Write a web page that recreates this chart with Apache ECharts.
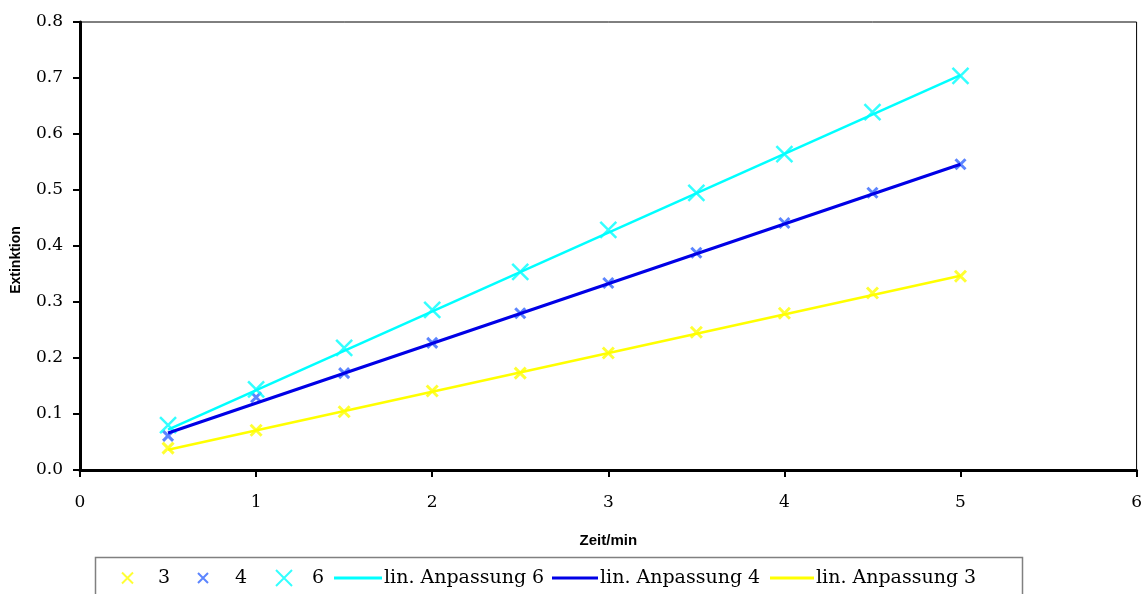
<!DOCTYPE html>
<html>
<head>
<meta charset="utf-8">
<script src="https://cdn.jsdelivr.net/npm/echarts@6/dist/echarts.min.js"></script>
<style>
html, body { margin: 0; padding: 0; background: #fff; }
#chart { width: 1145px; height: 594px; }
</style>
</head>
<body>
<div id="chart"></div>
<script>
// Zeit in min
let zeit = [0.5, 1, 1.5, 2, 2.5, 3, 3.5, 4, 4.5, 5]
// Extinktion je Messreihe
let ext3 = [0.039, 0.071, 0.104, 0.141, 0.173, 0.209, 0.246, 0.280, 0.316, 0.346]
let ext4 = [0.061, 0.130, 0.173, 0.227, 0.280, 0.334, 0.388, 0.441, 0.495, 0.546]
let ext6 = [0.080, 0.144, 0.218, 0.286, 0.354, 0.429, 0.495, 0.564, 0.639, 0.704]
// lin. Anpassung: Anfangs- und Endpunkt
let fitX = [0.5, 5]
let fit3 = [0.036, 0.347]
let fit4 = [0.066, 0.546]
let fit6 = [0.072, 0.705]

let yTicks = [0, 0.1, 0.2, 0.3, 0.4, 0.5, 0.6, 0.7, 0.8]
let xTicks = [0, 1, 2, 3, 4, 5, 6]

let kreuz = 'path://M0,0L10,10M10,0L0,10'
let serif = '"DejaVu Serif", "Liberation Serif", serif'
let sans = '"Liberation Sans", Arial, sans-serif'

let pairs = (xs, ys) => xs.map((x, i) => [x, ys[i]])

// ein Legenden-Eintrag pro Komponente, damit die Abstände passen
let legendItem = (item, left, width, height, textPad) => ({
	left: left,
	top: 578 - 11,
	padding: 0,
	itemWidth: width,
	itemHeight: height,
	itemGap: 0,
	selectedMode: false,
	data: [item],
	textStyle: { fontFamily: serif, fontSize: 19, color: '#000', padding: [0, 0, 0, textPad], lineHeight: 22 }
})

let lineIcon = (name, color) => ({ name: name, icon: 'rect', itemStyle: { color: color, borderWidth: 0 } })

let punkte = (name, data, color, size, width) => ({
	name: name,
	type: 'scatter',
	data: data,
	symbol: kreuz,
	symbolSize: size,
	itemStyle: { color: 'rgba(0,0,0,0)', borderColor: color, borderWidth: width },
	z: 2
})

let linie = (name, data, color, width) => ({
	name: name,
	type: 'line',
	data: data,
	symbol: 'none',
	showSymbol: false,
	lineStyle: { color: color, width: width },
	itemStyle: { color: color },
	z: 3
})

let chart = echarts.init(document.getElementById('chart'))

let opt = {
	backgroundColor: '#fff',
	animation: false,
	grid: {
		left: 80, right: 6, top: 22, bottom: 124,
		show: true, borderColor: '#000', borderWidth: 1
	},
	xAxis: {
		type: 'value',
		min: xTicks[0], max: xTicks[xTicks.length - 1], interval: 1,
		name: 'Zeit/min',
		nameLocation: 'middle',
		nameGap: 63,
		nameTextStyle: { fontFamily: sans, fontWeight: 'bold', fontSize: 15, color: '#000' },
		axisLine: { onZero: false, lineStyle: { color: '#000', width: 3 } },
		axisTick: { inside: false, length: 7, lineStyle: { color: '#000', width: 2 } },
		axisLabel: { margin: 24, fontFamily: serif, fontSize: 17, color: '#000' },
		splitLine: { show: false }
	},
	yAxis: {
		type: 'value',
		min: yTicks[0], max: yTicks[yTicks.length - 1], interval: 0.1,
		name: 'Extinktion',
		nameLocation: 'middle',
		nameGap: 57,
		nameTextStyle: { fontFamily: sans, fontWeight: 'bold', fontSize: 14, color: '#000', padding: [0, 28, 0, 0] },
		axisLine: { show: true, onZero: false, lineStyle: { color: '#000', width: 3 } },
		axisTick: { show: true, inside: false, length: 7, lineStyle: { color: '#000', width: 2 } },
		axisLabel: { margin: 17, fontFamily: serif, fontSize: 17, color: '#000', formatter: v => v.toFixed(1) },
		splitLine: { show: false }
	},
	legend: [
		legendItem('3', 121, 11, 11, 20),
		legendItem('4', 197, 10, 10, 22),
		legendItem('6', 275, 16, 16, 15),
		legendItem(lineIcon('lin. Anpassung 6', '#00ffff'), 334, 48, 3, -3),
		legendItem(lineIcon('lin. Anpassung 4', '#0000e6'), 552, 46, 3, -3),
		legendItem(lineIcon('lin. Anpassung 3', '#ffff00'), 770, 44, 3, -3)
	],
	graphic: [{
		type: 'rect',
		shape: { x: 95.5, y: 557.5, width: 927, height: 60 },
		style: { fill: '#fff', stroke: '#808080', lineWidth: 1.5 },
		z: -1
	}],
	series: [
		punkte('3', pairs(zeit, ext3), '#ffff00', 11, 3),
		punkte('4', pairs(zeit, ext4), '#3366ff', 10, 3),
		punkte('6', pairs(zeit, ext6), '#00ffff', 16, 2.5),
		linie('lin. Anpassung 6', pairs(fitX, fit6), '#00ffff', 2.5),
		linie('lin. Anpassung 4', pairs(fitX, fit4), '#0000e6', 3),
		linie('lin. Anpassung 3', pairs(fitX, fit3), '#ffff00', 2.5)
	]
}

chart.setOption(opt)
</script>
</body>
</html>
